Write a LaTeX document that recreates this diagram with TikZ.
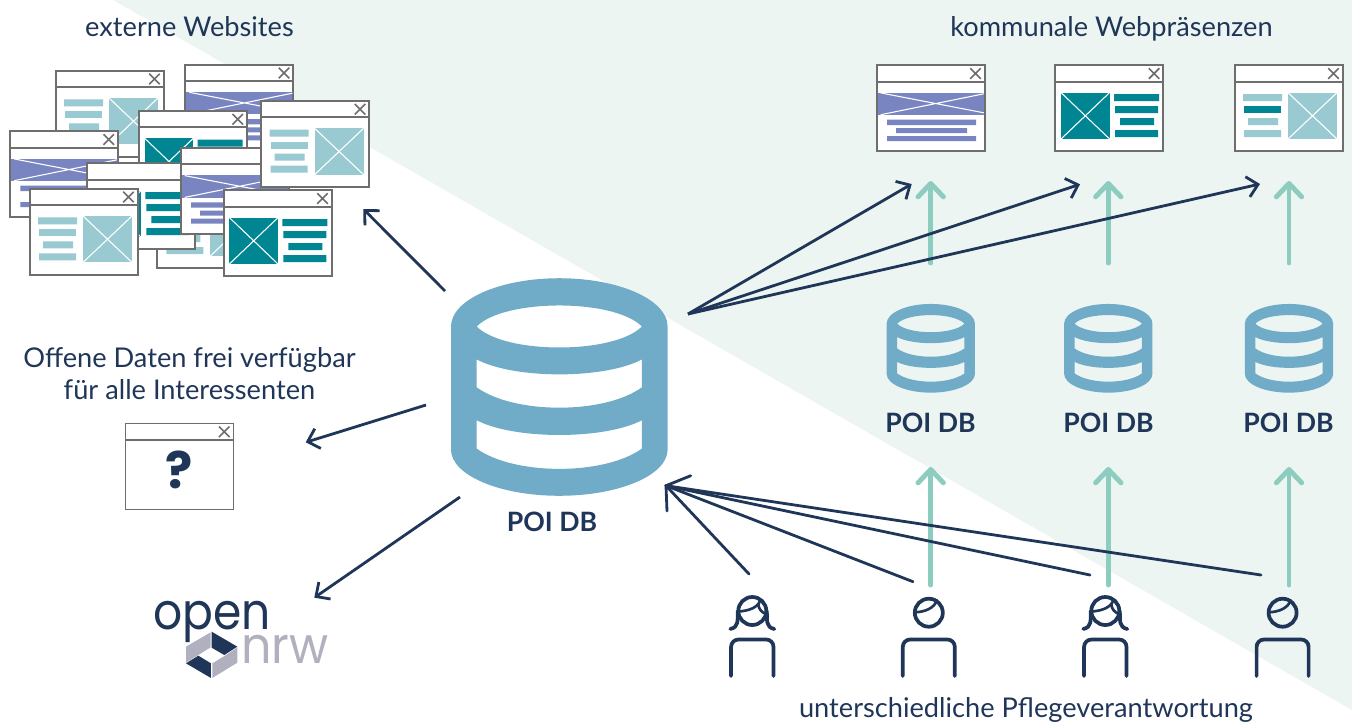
\documentclass[tikz,border=0pt]{standalone}
\usepackage{fontspec}
\setmainfont{Lato}
\newfontfamily\logofont[FakeStretch=0.9]{Poppins}
\newfontfamily\logofontb[FakeStretch=0.94]{Poppins}
\newfontfamily\qfont{Poppins}
\usetikzlibrary{arrows.meta}
\definecolor{navy}{HTML}{1F3658}
\definecolor{bgmint}{HTML}{EDF5F2}
\definecolor{dbblue}{HTML}{70ABC7}
\definecolor{mint}{HTML}{8CCDBF}
\definecolor{winline}{HTML}{6E6E6E}
\definecolor{tealdark}{HTML}{008592}
\definecolor{teallight}{HTML}{9ACAD1}
\definecolor{purplebar}{HTML}{7985C0}
\definecolor{logogrey}{HTML}{B0B0BE}
\tikzset{
  winframe/.style={draw=winline,fill=white,line width=1.4pt,anchor=north west,inner sep=0pt,outer sep=0pt,minimum width=81pt,minimum height=64.5pt},
  winrule/.style={draw=winline,line width=1.4pt},
  winx/.style={draw=winline,line width=1.2pt},
  cross/.style={draw=white,line width=.8pt},
  navyarrow/.style={draw=navy,line width=2.1pt,-{Straight Barb[length=8pt,width=15.5pt,line width=2.1pt]}},
  navyline/.style={draw=navy,line width=2.1pt,line cap=round},
  mintarrow/.style={draw=mint,line width=3.7pt,line cap=round,-{Straight Barb[round,length=10pt,width=19pt,line width=3.7pt]}},
  personline/.style={draw=navy,line width=2.8pt,line cap=round},
  lbl/.style={text=navy,font=\fontsize{20.4}{24}\selectfont,inner sep=0pt,align=center},
  dblabel/.style={text=navy,font=\fontsize{20}{24}\selectfont\bfseries,inner sep=0pt},
}
\newcommand\webframe[3]{%
  \node[winframe] (#1) at (#2,#3) {};
  \begin{scope}[shift={(#2,#3)}]
    \draw[winrule] (0,16.3) -- (108,16.3);
    \draw[winx] (93.5,3) -- (104,13.5) (93.5,13.5) -- (104,3);
}
\newcommand\winpurple[3]{\webframe{#1}{#2}{#3}
    \fill[purplebar] (0.9,27.3) rectangle (107.1,49.7);
    \draw[cross] (4,27.6) -- (107.1,47.5) (4,49.4) -- (107.1,28.5);
    \fill[purplebar] (10.3,54.3) rectangle (99.3,59.7) (19.3,62.7) rectangle (90.3,67.7) (10.3,70.7) rectangle (99.3,75.7);
  \end{scope}}
\newcommand\windark[3]{\webframe{#1}{#2}{#3}
    \fill[tealdark] (5.7,27.3) rectangle (54.3,73.7);
    \draw[cross] (5.7,27.3) -- (54.3,73.7) (5.7,73.7) -- (54.3,27.3);
    \fill[tealdark] (58.7,28.7) rectangle (103.7,35.7) (59.7,40.7) rectangle (102.7,47.7) (64.7,52.7) rectangle (98.7,59.7) (59.7,64.7) rectangle (102.7,71.7);
  \end{scope}}
\newcommand\winlight[4]{\webframe{#1}{#2}{#3}
    \fill[teallight] (53.3,27.3) rectangle (102.3,73.7);
    \draw[cross] (53.3,27.3) -- (102.3,73.7) (53.3,73.7) -- (102.3,27.3);
    \fill[teallight] (8.3,28.7) rectangle (47.3,35.7) (13.3,52.7) rectangle (43.3,59.7) (9.3,64.7) rectangle (46.3,71.7);
    \fill[#4] (9.3,40.7) rectangle (46.3,47.7);
  \end{scope}}
\newcommand\dbcyl[3]{%
  \fill[dbblue,even odd rule,shift={(#1,#2)},scale=1,xscale=#3,yscale=#3*1.049]
    (-108.3,-57.7) .. controls (-108.3,-83.1) and (-59.8,-103.7) .. (0,-103.7)
      .. controls (59.8,-103.7) and (108.3,-83.1) .. (108.3,-57.7) -- (108.3,59.7)
      .. controls (108.3,84) and (59.8,103.7) .. (0,103.7)
      .. controls (-59.8,103.7) and (-108.3,84) .. (-108.3,59.7) -- cycle
    (-82.6,-57.7) .. controls (-55,-84.4) and (55,-84.4) .. (82.6,-57.7)
      .. controls (55,-31) and (-55,-31) .. (-82.6,-57.7) -- cycle
    (-82.6,-26.3) .. controls (-45,-7.3) and (45,-7.3) .. (82.6,-26.3) -- (82.6,0.3)
      .. controls (45,26.2) and (-45,26.2) .. (-82.6,0.3) -- cycle
    (-82.6,31.7) .. controls (-45,50.4) and (45,50.4) .. (82.6,31.7) -- (82.6,58.7)
      .. controls (45,84.5) and (-45,84.5) .. (-82.6,58.7) -- cycle;
}
\newcommand\dbcylsmall[2]{%
  \fill[dbblue,even odd rule,shift={(#1,#2)},xscale=.4077,yscale=.4277]
    (-108.3,-57.7) .. controls (-108.3,-83.1) and (-59.8,-103.7) .. (0,-103.7)
      .. controls (59.8,-103.7) and (108.3,-83.1) .. (108.3,-57.7) -- (108.3,59.7)
      .. controls (108.3,84) and (59.8,103.7) .. (0,103.7)
      .. controls (-59.8,103.7) and (-108.3,84) .. (-108.3,59.7) -- cycle
    (-82.6,-57.7) .. controls (-55,-84.4) and (55,-84.4) .. (82.6,-57.7)
      .. controls (55,-31) and (-55,-31) .. (-82.6,-57.7) -- cycle
    (-82.6,-26.3) .. controls (-45,-7.3) and (45,-7.3) .. (82.6,-26.3) -- (82.6,0.3)
      .. controls (45,26.2) and (-45,26.2) .. (-82.6,0.3) -- cycle
    (-82.6,31.7) .. controls (-45,50.4) and (45,50.4) .. (82.6,31.7) -- (82.6,58.7)
      .. controls (45,84.5) and (-45,84.5) .. (-82.6,58.7) -- cycle;
}
\newcommand\malefig[1]{%
  \begin{scope}[shift={(#1,0)}]
    \draw[personline] (0,612.7) circle (14);
    \draw[personline,line width=2pt] (-14,612.3) .. controls (-4,612) and (6,608) .. (8,600);
    \draw[personline,rounded corners=5.5pt] (-26,676) -- (-26,639.5) -- (26,639.5) -- (26,676);
  \end{scope}}
\newcommand\femalefig[1]{%
  \begin{scope}[shift={(#1,0)}]
    \draw[personline] (0,611) circle (14);
    \draw[personline,line width=2pt] (-14,611.5) .. controls (-5,611) and (6,608) .. (8,600);
    \draw[personline,line width=2pt] (6,604) .. controls (6,609) and (10,613) .. (14,614);
    \draw[personline] (-14.5,611) .. controls (-15,620) and (-13,627) .. (-22,629);
    \draw[personline] (14.5,611) .. controls (15,620) and (13,627) .. (22,629);
    \draw[personline,rounded corners=5.5pt] (-21.2,676) -- (-21.2,639.5) -- (21.2,639.5) -- (21.2,676);
  \end{scope}}
\begin{document}
\begin{tikzpicture}[x=.75pt,y=-.75pt]
\useasboundingbox (0,0) rectangle (1352,722);
\fill[bgmint] (113,0) -- (1352,0) -- (1352,710) -- cycle;

% external websites
\winlight{wa}{55.7}{70.7}{teallight}
\winpurple{wb}{185.3}{64.7}
\windark{wc}{139}{111}
\winpurple{we}{10}{131.3}
\winlight{wh}{157}{182.3}{teallight}
\windark{wf}{86.7}{163.3}
\winpurple{wi}{180.7}{148}
\winlight{wd}{261.3}{101}{teallight}
\winlight{wg}{29.7}{188.7}{teallight}
\windark{wj}{223.7}{190.3}

% open data window
\webframe{wq}{125.5}{423.5}
\end{scope}
\node[inner sep=0pt,text=navy,font=\qfont\fontsize{38}{42}\selectfont\bfseries] (qmark) at (179,470) {?};

% municipal windows
\winpurple{k1}{876.7}{65.3}
\windark{k2}{1055.3}{65.3}
\winlight{k3}{1234.7}{65.3}{tealdark}

% labels
\node[lbl,anchor=base] (tExt) at (189.5,36) {externe Websites};
\node[lbl,anchor=base] (tKom) at (1111.5,36) {kommunale Webpräsenzen};
\node[lbl] (tOff) at (189.5,374) {Offene Daten frei verfügbar\\für alle Interessenten};
\node[lbl,anchor=base] (tPfl) at (1026,717) {unterschiedliche Pflegeverantwortung};

% databases
\dbcyl{559.3}{387}{1}
\dbcylsmall{930.8}{348.3}
\dbcylsmall{1108.3}{348.3}
\dbcylsmall{1289}{348.3}
\node[dblabel] (dbM) at (552,522) {POI DB};
\node[dblabel] (db1) at (930.5,423) {POI DB};
\node[dblabel] (db2) at (1108.5,423) {POI DB};
\node[dblabel] (db3) at (1288.5,423) {POI DB};

% persons
\femalefig{752.3}
\malefig{928.8}
\femalefig{1105.3}
\malefig{1282.6}

% logo
\node[anchor=base west,inner sep=0pt,text=navy,font=\logofont\fontsize{38}{40}\selectfont] (logoOpen) at (153,629) {open};
\node[anchor=base west,inner sep=0pt,text=logogrey,font=\logofontb\fontsize{38}{40}\selectfont] (logoNrw) at (241,663) {nrw};
\begin{scope}[shift={(175,620)},scale=.3333]
  \fill[navy] (110,35) -- (187,80) -- (148,105) -- (110,83) -- cycle;
  \fill[logogrey] (107,37) -- (107,82) -- (70,105) -- (33,128) -- (33,80) -- cycle;
  \fill[navy] (33,130) -- (70,107) -- (108,130) -- (108,174) -- cycle;
  \fill[logogrey] (112,174) -- (112,130) -- (150,107) -- (187,82) -- (187,128) -- cycle;
\end{scope}

% connector ends
\coordinate (srcR) at (688,314);
\coordinate (c1) at (911.7,184);
\coordinate (c2) at (1080,184.3);
\coordinate (c3) at (1260,184);
\coordinate (ex) at (363.3,209);
\coordinate (exS) at (445,291);
\coordinate (of) at (305.7,442.3);
\coordinate (ofS) at (426,405);
\coordinate (nr) at (314.3,597.7);
\coordinate (nrS) at (460,497);
\coordinate (inT) at (666,485.7);
\coordinate (inU) at (690.7,475.7);
\coordinate (inD) at (667,511);
\coordinate (p1) at (749,574);
\coordinate (p2) at (913,581.7);
\coordinate (p3) at (1090,575);
\coordinate (p4) at (1261,575);
\foreach \n/\xx in {1/930.7,2/1108.3,3/1289}{
  \coordinate (ub\n) at (\xx,263);
  \coordinate (ut\n) at (\xx,181);
  \coordinate (lb\n) at (\xx,585);
  \coordinate (lt\n) at (\xx,467);
  \draw[mintarrow] (ub\n) -- (ut\n);
  \draw[mintarrow] (lb\n) -- (lt\n);
}
\draw[navyarrow] (srcR) -- (c1);
\draw[navyarrow] (srcR) -- (c2);
\draw[navyarrow] (srcR) -- (c3);
\draw[navyarrow] (exS) -- (ex);
\draw[navyarrow] (ofS) -- (of);
\draw[navyarrow] (nrS) -- (nr);
\draw[navyline] (p1) -- (inT);
\draw[navyline] (p2) -- (inT);
\draw[navyline] (p3) -- (inT);
\draw[navyline] (p4) -- (inT);
\draw[navyline] (inU) -- (inT) -- (inD);
\end{tikzpicture}
\end{document}
